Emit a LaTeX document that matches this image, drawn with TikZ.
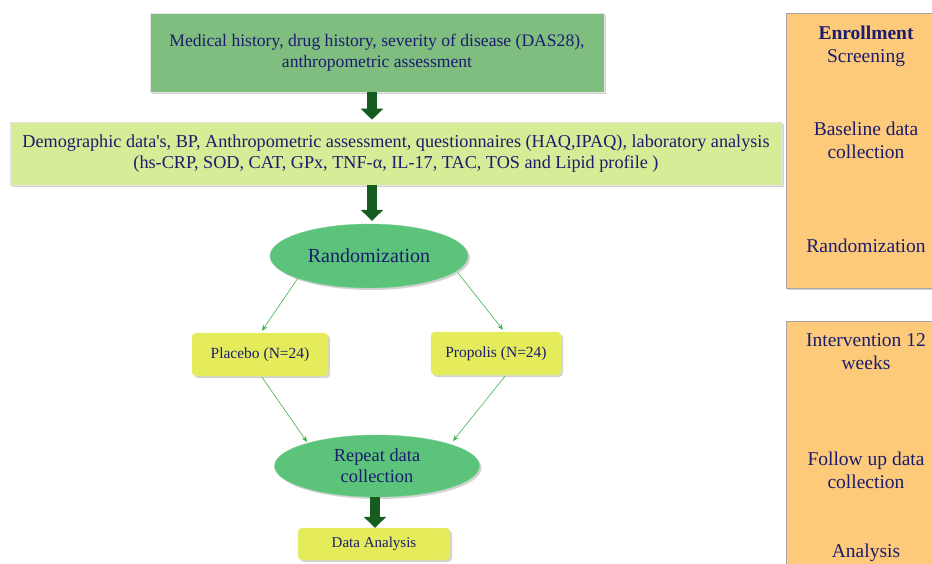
\documentclass[tikz,border=0pt]{standalone}
\usepackage{fontspec}
\setmainfont{Liberation Serif}
\usetikzlibrary{arrows.meta,shapes.geometric,shadows,calc}
\definecolor{navy}{RGB}{28,28,110}
\definecolor{topgreen}{RGB}{128,190,128}
\definecolor{midgreen}{RGB}{214,236,150}
\definecolor{ellgreen}{RGB}{92,196,122}
\definecolor{yel}{RGB}{228,236,92}
\definecolor{orng}{RGB}{253,202,122}
\definecolor{darkarrow}{RGB}{22,92,30}
\definecolor{thinarrow}{RGB}{60,180,80}
\tikzset{
  every node/.style={text=navy,align=center,inner sep=0pt},
  shd/.style={drop shadow={shadow xshift=2pt,shadow yshift=-2pt,opacity=0.35,fill=gray}},
  bigbox/.style={draw=white!80!gray,line width=0.6pt,shd,minimum height=#1},
  yelbox/.style={fill=yel,rounded corners=4pt,draw=yel!80!white,shd},
  ell/.style={ellipse,fill=ellgreen,draw=ellgreen!80!white,shd},
  sidebox/.style={fill=orng,draw=gray!70,line width=0.8pt,shd},
  sidetext/.style={font=\fontsize{19.5}{23}\selectfont},
  blockarrow/.style={draw=darkarrow,line width=10pt,-{Triangle[width=22pt,length=11pt]}},
  thin/.style={draw=thinarrow,line width=0.6pt,-{Stealth[length=6pt,width=5pt]}}
}
\begin{document}
\begin{tikzpicture}[x=1pt,y=-1pt]
\useasboundingbox (0,0) rectangle (932,564);
% right side boxes
\node[sidebox,minimum width=150pt,minimum height=275pt,anchor=north west] (s1) at (786,13) {};
\node[sidebox,minimum width=150pt,minimum height=250pt,anchor=north west] (s2) at (786,321) {};
\node[sidetext] (t1) at (866,46) {\textbf{Enrollment}\\Screening};
\node[sidetext] (t2) at (866,140) {Baseline data\\collection};
\node[sidetext] (t3) at (866,246) {Randomization};
\node[sidetext] (t4) at (866,352) {Intervention 12\\weeks};
\node[sidetext] (t5) at (866,470) {Follow up data\\collection};
\node[sidetext] (t6) at (866,553) {Analysis};
% main flow
\node[bigbox=79pt,fill=topgreen,minimum width=454pt,font=\fontsize{17.6}{21}\selectfont] (top) at (377,52.5)
  {Medical history, drug history, severity of disease (DAS28),\\anthropometric assessment};
\node[bigbox=63pt,fill=midgreen,minimum width=772pt,font=\fontsize{18.2}{21}\selectfont] (mid) at (396,153.5)
  {\raisebox{-2pt}{Demographic data\textquotesingle s, BP, Anthropometric assessment, questionnaires (HAQ,IPAQ), laboratory analysis}\\
   \raisebox{-2pt}{(hs-CRP, SOD, CAT, GPx, TNF-α, IL-17, TAC, TOS and Lipid profile )}};
\node[ell,minimum width=198pt,minimum height=64pt,font=\fontsize{20}{22}\selectfont] (rand) at (369,256) {Randomization};
\node[yelbox,minimum width=136pt,minimum height=43pt,font=\fontsize{15.5}{18}\selectfont] (plac) at (260,354.5) {Placebo (N=24)};
\node[yelbox,minimum width=130pt,minimum height=43pt,font=\fontsize{15.5}{18}\selectfont] (prop) at (496,353.5) {Propolis (N=24)};
\node[ell,minimum width=205pt,minimum height=62pt,font=\fontsize{18.4}{21}\selectfont] (rep) at (377,466) {Repeat data\\collection};
\node[yelbox,minimum width=152pt,minimum height=32pt,font=\fontsize{15}{18}\selectfont] (da) at (374,544) {Data Analysis};
% block arrows
\coordinate (a1s) at ($(top.south)+(-5,0)$);
\coordinate (a1e) at ($(mid.north)+(-24,-2)$);
\coordinate (a2s) at ($(mid.south)+(-24,0)$);
\coordinate (a2e) at ($(rand.north)+(3,-3)$);
\coordinate (a3s) at ($(rep.south)+(-2,0)$);
\coordinate (a3e) at ($(da.north)+(1,0)$);
\draw[blockarrow] (a1s) -- (a1e);
\draw[blockarrow] (a2s) -- (a2e);
\draw[blockarrow] (a3s) -- (a3e);
% thin arrows
\coordinate (r1) at ($(rand)+(-71,22)$);
\coordinate (p1) at ($(plac.north)+(2,-2)$);
\coordinate (r2) at ($(rand)+(89,17)$);
\coordinate (q1) at ($(prop.north)+(7,-2)$);
\coordinate (p2) at ($(plac.south)+(2,1)$);
\coordinate (e1) at ($(rep)+(-70,-24)$);
\coordinate (q2) at ($(prop.south)+(9,1)$);
\coordinate (e2) at ($(rep)+(76,-25)$);
\draw[thin] (r1) -- (p1);
\draw[thin] (r2) -- (q1);
\draw[thin] (p2) -- (e1);
\draw[thin] (q2) -- (e2);
\end{tikzpicture}
\end{document}
